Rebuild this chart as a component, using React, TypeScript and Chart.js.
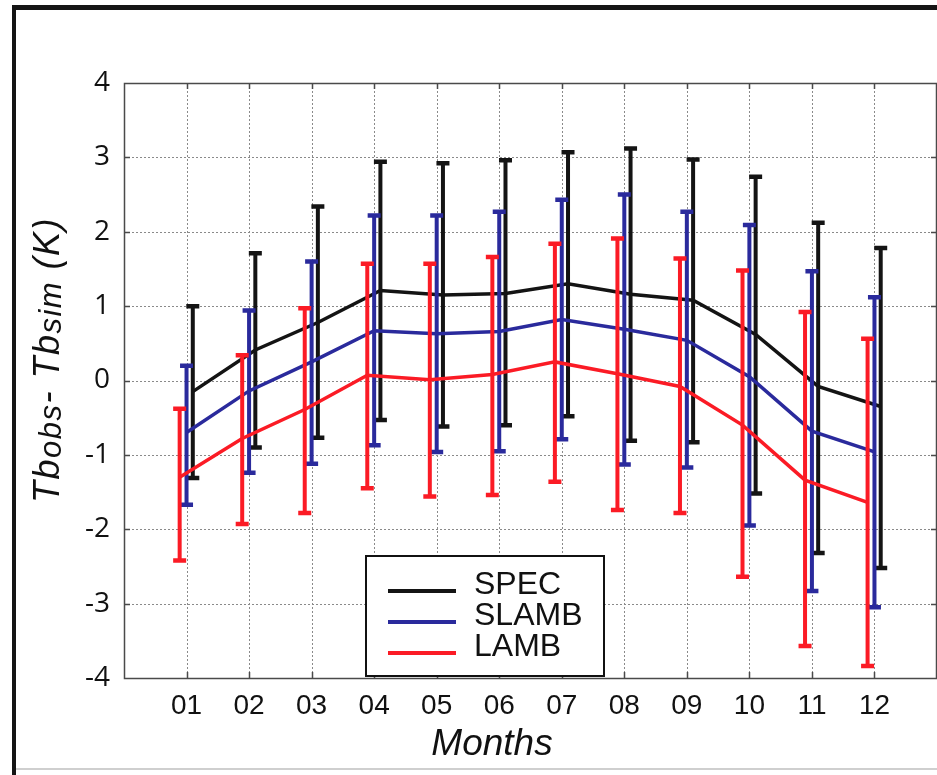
import React, { useEffect, useRef } from "react";
import { Chart, registerables } from "chart.js";

Chart.register(...registerables);

const months = ["01", "02", "03", "04", "05", "06", "07", "08", "09", "10", "11", "12"];

const specMean = [-0.15, 0.41, 0.78, 1.21, 1.15, 1.17, 1.30, 1.16, 1.08, 0.62, -0.08, -0.35];
const specHigh = [1.00, 1.71, 2.34, 2.94, 2.92, 2.96, 3.07, 3.12, 2.97, 2.74, 2.12, 1.78];
const specLow = [-1.31, -0.90, -0.77, -0.53, -0.62, -0.60, -0.48, -0.81, -0.83, -1.52, -2.32, -2.52];

const slambMean = [-0.70, -0.14, 0.25, 0.67, 0.63, 0.66, 0.82, 0.69, 0.54, 0.05, -0.68, -0.96];
const slambHigh = [0.20, 0.94, 1.60, 2.22, 2.22, 2.27, 2.43, 2.50, 2.27, 2.09, 1.47, 1.12];
const slambLow = [-1.67, -1.24, -1.12, -0.87, -0.96, -0.95, -0.79, -1.13, -1.17, -1.95, -2.83, -3.05];

const lambMean = [-1.30, -0.78, -0.39, 0.07, 0.01, 0.08, 0.25, 0.09, -0.08, -0.60, -1.34, -1.64];
const lambHigh = [-0.38, 0.34, 0.97, 1.57, 1.57, 1.66, 1.84, 1.91, 1.64, 1.48, 0.92, 0.56];
const lambLow = [-2.42, -1.93, -1.78, -1.45, -1.56, -1.54, -1.36, -1.74, -1.78, -2.64, -3.57, -3.84];

const seriesNames = ["SPEC", "SLAMB", "LAMB"];
const seriesColors = ["#141414", "#2a2a9c", "#fb1b25"];
const seriesOffsets = [0.1, 0, -0.11];

const W = 937;
const H = 775;

export default function App() {
  const ref = useRef<HTMLCanvasElement | null>(null);

  useEffect(() => {
    document.body.style.margin = "0";
    const canvas = ref.current;
    if (!canvas) return;

    const means = [specMean, slambMean, lambMean];
    const highs = [specHigh, slambHigh, lambHigh];
    const lows = [specLow, slambLow, lambLow];

    const datasets = seriesNames.map((name, s) => ({
      label: name,
      data: means[s].map((v, i) => ({ x: i + 1 + seriesOffsets[s], y: v })),
      borderColor: seriesColors[s],
      backgroundColor: seriesColors[s],
      borderWidth: 3.5,
      pointRadius: 0,
      tension: 0,
      order: 2 - s,
      errHigh: highs[s],
      errLow: lows[s],
    }));

    const framePlugin = {
      id: "frame",
      beforeDatasetsDraw(chart: any) {
        const { ctx, chartArea: a, scales } = chart;
        const xs = scales.x;
        const ys = scales.y;
        ctx.save();
        ctx.fillStyle = "#ffffff";
        ctx.fillRect(a.left, a.top, a.right - a.left, a.bottom - a.top);
        ctx.strokeStyle = "#8a8a8a";
        ctx.lineWidth = 1;
        ctx.setLineDash([2, 2]);
        for (let i = 1; i <= months.length; i++) {
          const px = Math.round(xs.getPixelForValue(i)) + 0.5;
          ctx.beginPath();
          ctx.moveTo(px, a.top);
          ctx.lineTo(px, a.bottom);
          ctx.stroke();
        }
        for (let v = ys.min + 1; v < ys.max; v++) {
          const py = Math.round(ys.getPixelForValue(v)) + 0.5;
          ctx.beginPath();
          ctx.moveTo(a.left, py);
          ctx.lineTo(a.right, py);
          ctx.stroke();
        }
        ctx.setLineDash([]);
        ctx.strokeStyle = "#4a4a4a";
        ctx.lineWidth = 1.5;
        for (let i = 1; i <= months.length; i++) {
          const px = Math.round(xs.getPixelForValue(i)) + 0.5;
          ctx.beginPath();
          ctx.moveTo(px, a.bottom);
          ctx.lineTo(px, a.bottom - 6);
          ctx.moveTo(px, a.top);
          ctx.lineTo(px, a.top + 6);
          ctx.stroke();
        }
        for (let v = ys.min + 1; v < ys.max; v++) {
          const py = Math.round(ys.getPixelForValue(v)) + 0.5;
          ctx.beginPath();
          ctx.moveTo(a.left, py);
          ctx.lineTo(a.left + 6, py);
          ctx.moveTo(a.right, py);
          ctx.lineTo(a.right - 6, py);
          ctx.stroke();
        }
        ctx.strokeRect(a.left + 0.5, a.top + 0.5, a.right - a.left - 1, a.bottom - a.top);
        ctx.restore();
      },
      afterDatasetDraw(chart: any, args: any) {
        const { ctx, scales } = chart;
        const ds = chart.data.datasets[args.index];
        const xs = scales.x;
        const ys = scales.y;
        ctx.save();
        ctx.strokeStyle = ds.borderColor;
        ctx.lineCap = "butt";
        ds.data.forEach((p: any, i: number) => {
          const px = xs.getPixelForValue(p.x);
          const yh = ys.getPixelForValue(ds.errHigh[i]);
          const yl = ys.getPixelForValue(ds.errLow[i]);
          ctx.lineWidth = 4;
          ctx.beginPath();
          ctx.moveTo(px, yh);
          ctx.lineTo(px, yl);
          ctx.stroke();
          ctx.lineWidth = 4.5;
          ctx.beginPath();
          ctx.moveTo(px - 6.5, yh);
          ctx.lineTo(px + 6.5, yh);
          ctx.moveTo(px - 6.5, yl);
          ctx.lineTo(px + 6.5, yl);
          ctx.stroke();
        });
        ctx.restore();
      },
      afterDraw(chart: any) {
        const { ctx } = chart;
        ctx.save();
        // legend box
        const bx = 366, by = 556, bw = 238, bh = 120;
        ctx.fillStyle = "#ffffff";
        ctx.fillRect(bx, by, bw, bh);
        ctx.strokeStyle = "#111";
        ctx.lineWidth = 2;
        ctx.strokeRect(bx, by, bw, bh);
        ctx.font = "32px 'Liberation Sans', Arial, sans-serif";
        ctx.textBaseline = "middle";
        ctx.textAlign = "left";
        seriesNames.forEach((name, s) => {
          const ly = 591 + s * 31;
          ctx.strokeStyle = seriesColors[s];
          ctx.lineWidth = 4;
          ctx.beginPath();
          ctx.moveTo(388, ly);
          ctx.lineTo(456, ly);
          ctx.stroke();
          ctx.fillStyle = "#111";
          ctx.fillText(name, 474, ly - 6);
        });
        // x title
        ctx.fillStyle = "#111";
        ctx.font = "italic 37px 'Liberation Sans', Arial, sans-serif";
        ctx.textAlign = "center";
        ctx.textBaseline = "alphabetic";
        ctx.fillText("Months", 492, 755);
        // y title with subscripts
        const big = "italic 36px 'Liberation Sans', Arial, sans-serif";
        const small = "italic 31px 'Liberation Sans', Arial, sans-serif";
        const parts: [string, string, number][] = [
          ["Tb", big, 0],
          ["obs", small, 2],
          ["- ", big, 0],
          ["Tb", big, 0],
          ["sim", small, 2],
          [" (K)", big, 0],
        ];
        (ctx as any).letterSpacing = "1.5px";
        let total = 0;
        parts.forEach(([t, f]) => {
          ctx.font = f;
          total += ctx.measureText(t).width;
        });
        ctx.translate(0, 360);
        ctx.rotate(-Math.PI / 2);
        ctx.textAlign = "left";
        let u = -total / 2;
        parts.forEach(([t, f, d]) => {
          ctx.font = f;
          ctx.fillText(t, u, 59 + d);
          u += ctx.measureText(t).width;
        });
        ctx.restore();
        // outer frame
        ctx.save();
        ctx.fillStyle = "#151515";
        ctx.fillRect(12, 5, W - 12, 5);
        ctx.fillRect(12, 5, 4, H - 5);
        ctx.fillStyle = "#cfcfcf";
        ctx.fillRect(16, 768, W - 16, 2);
        ctx.restore();
      },
    };

    const chart = new Chart(canvas, {
      type: "line",
      data: { datasets: datasets as any },
      options: {
        animation: false,
        responsive: false,
        devicePixelRatio: 1,
        layout: { padding: { left: 0, top: 83, right: 0, bottom: 0 } },
        plugins: { legend: { display: false }, tooltip: { enabled: false } },
        scales: {
          x: {
            type: "linear",
            min: 0,
            max: 13,
            grid: { display: false, drawTicks: false },
            border: { display: false },
            ticks: {
              stepSize: 1,
              autoSkip: false,
              maxRotation: 0,
              padding: 11,
              color: "#111",
              font: { family: "'Liberation Sans', Arial, sans-serif", size: 28 },
              callback: (v: any) => {
                const i = Math.round(Number(v));
                return i >= 1 && i <= months.length ? months[i - 1] : "";
              },
            },
            afterFit: (s: any) => {
              s.height = 97;
              s.paddingLeft = 0;
              s.paddingRight = 0;
            },
          },
          y: {
            min: -4,
            max: 4,
            grid: { display: false, drawTicks: false },
            border: { display: false },
            ticks: {
              stepSize: 1,
              padding: 14,
              color: "#111",
              font: { family: "'Open Sans', sans-serif", size: 28 },
            },
            afterFit: (s: any) => {
              s.width = 124;
            },
          },
        },
      },
      plugins: [framePlugin],
    });

    return () => chart.destroy();
  }, []);

  return (
    <div style={{ width: W, height: H, background: "#fff" }}>
      <canvas ref={ref} width={W} height={H} style={{ display: "block" }} />
    </div>
  );
}
